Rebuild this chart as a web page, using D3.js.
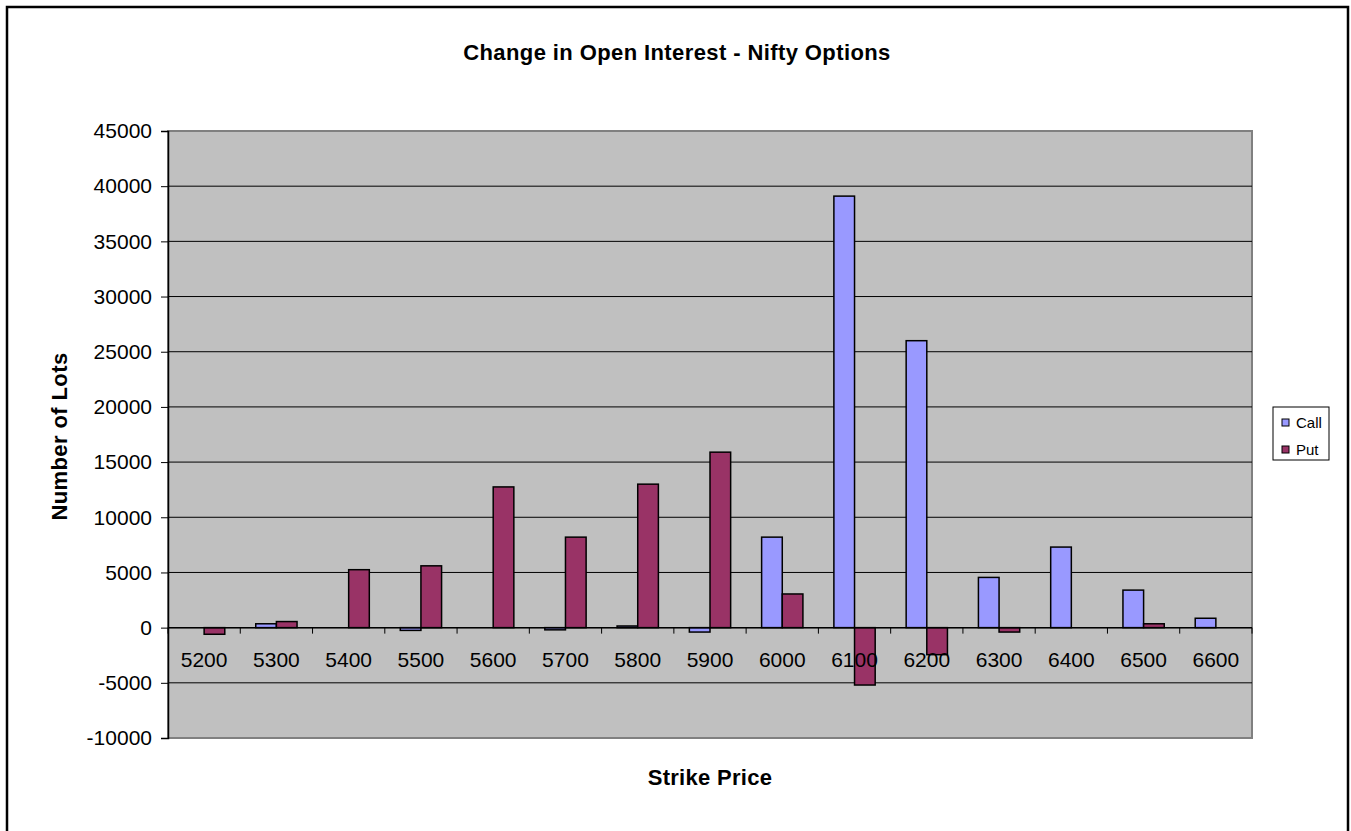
<!DOCTYPE html>
<html>
<head>
<meta charset="utf-8">
<script src="https://d3js.org/d3.v7.min.js"></script>
<style>
body { margin: 0; background: #fff; }
text { font-family: Arial, "Liberation Sans", sans-serif; }
</style>
</head>
<body>
<div id="chart"></div>
<script>
var strikes = ["5200","5300","5400","5500","5600","5700","5800","5900","6000","6100","6200","6300","6400","6500","6600"];
var callOI = [0, 350, 0, -250, 0, -200, 150, -400, 8200, 39100, 26000, 4550, 7300, 3400, 850];
var putOI  = [-600, 550, 5250, 5600, 12750, 8200, 13000, 15900, 3050, -5200, -2450, -400, 0, 350, 0];
var yTicks = [-10000,-5000,0,5000,10000,15000,20000,25000,30000,35000,40000,45000];
var seriesNames = ["Call","Put"];
var seriesColors = ["#9999FF","#993366"];

var W = 1351, H = 831;
var margin = {top: 131, right: 99, bottom: 93, left: 168},
width = W - margin.left - margin.right,
height = H - margin.top - margin.bottom;

var svg0 = d3.select("#chart")
.append("svg")
.attr("width", W)
.attr("height", H);

// outer chart border
svg0.append("rect")
.attr("x", 7).attr("y", 7)
.attr("width", 1341).attr("height", 840)
.attr("fill", "#fff")
.attr("stroke", "#000")
.attr("stroke-width", 2.5);

svg0.append("text")
.attr("x", 677).attr("y", 60)
.attr("text-anchor", "middle")
.style("font-size", "22px").style("font-weight", "bold")
.style("letter-spacing", "0.4px")
.text("Change in Open Interest - Nifty Options");

svg0.append("text")
.attr("x", margin.left + width / 2).attr("y", 785)
.attr("text-anchor", "middle")
.style("font-size", "22px").style("font-weight", "bold")
.style("letter-spacing", "0.3px")
.text("Strike Price");

svg0.append("text")
.attr("transform", "translate(67," + (margin.top + height / 2 + 2) + ") rotate(-90)")
.attr("text-anchor", "middle")
.style("font-size", "22px").style("font-weight", "bold")
.style("letter-spacing", "0.4px")
.text("Number of Lots");

var svg = svg0.append("g")
.attr("transform", "translate(" + margin.left + "," + margin.top + ")");

var x = d3.scaleBand()
.domain(strikes)
.range([0, width])
.padding(0);

var xs = d3.scaleBand()
.domain(seriesNames)
.range([0, x.bandwidth()])
.paddingInner(0)
.paddingOuter(0.75);

var y = d3.scaleLinear()
.domain([-10000, 45000])
.range([height, 0]);

svg.append("rect")
.attr("width", width).attr("height", height)
.attr("fill", "#C0C0C0")
.attr("stroke", "#808080")
.attr("stroke-width", 2);

// gridlines
svg.append("g")
.selectAll("line")
.data(yTicks.filter(function(d) { return d > -10000 && d < 45000; }))
.enter().append("line")
.attr("x1", 0).attr("x2", width)
.attr("y1", function(d) { return y(d); })
.attr("y2", function(d) { return y(d); })
.attr("stroke", "#000")
.attr("stroke-width", 1);

var yAxis = svg.append("g")
.call(d3.axisLeft(y).tickValues(yTicks).tickSize(7).tickPadding(9)
  .tickFormat(function(d) { return String(d); }));
yAxis.select(".domain").attr("stroke", "#000").attr("stroke-width", 1.5);
yAxis.selectAll("text").style("font-size", "21px").attr("fill", "#000");

var data = strikes.map(function(s, i) {
  return {strike: s, vals: [{k: "Call", v: callOI[i]}, {k: "Put", v: putOI[i]}]};
});

var groups = svg.selectAll(".grp")
.data(data)
.enter().append("g")
.attr("transform", function(d) { return "translate(" + x(d.strike) + ",0)"; });

groups.selectAll("rect")
.data(function(d) { return d.vals.filter(function(e) { return e.v !== 0; }); })
.enter().append("rect")
.attr("x", function(d) { return xs(d.k); })
.attr("width", xs.bandwidth())
.attr("y", function(d) { return y(Math.max(0, d.v)); })
.attr("height", function(d) { return Math.abs(y(d.v) - y(0)); })
.attr("fill", function(d) { return seriesColors[seriesNames.indexOf(d.k)]; })
.attr("stroke", "#000")
.attr("stroke-width", 1.5);

// category axis at zero
var xAxisG = svg.append("g")
.attr("transform", "translate(0," + y(0) + ")");
xAxisG.append("line")
.attr("x1", 0).attr("x2", width)
.attr("stroke", "#000").attr("stroke-width", 1.5);
xAxisG.selectAll(".tk")
.data(strikes.concat(["end"]))
.enter().append("line")
.attr("x1", function(d, i) { return i * x.step(); })
.attr("x2", function(d, i) { return i * x.step(); })
.attr("y1", 0).attr("y2", 6)
.attr("stroke", "#000").attr("stroke-width", 1);
xAxisG.selectAll(".lbl")
.data(strikes)
.enter().append("text")
.attr("x", function(d) { return x(d) + x.bandwidth() / 2; })
.attr("y", 39)
.attr("text-anchor", "middle")
.style("font-size", "21px")
.text(function(d) { return d; });

// legend
var lg = svg0.append("g").attr("transform", "translate(1273,407)");
lg.append("rect")
.attr("width", 56).attr("height", 53)
.attr("fill", "#fff").attr("stroke", "#000").attr("stroke-width", 1);
seriesNames.forEach(function(n, i) {
  lg.append("rect")
  .attr("x", 9).attr("y", 12 + i * 27)
  .attr("width", 7).attr("height", 7)
  .attr("fill", seriesColors[i]).attr("stroke", "#000").attr("stroke-width", 1);
  lg.append("text")
  .attr("x", 23).attr("y", 21 + i * 27)
  .style("font-size", "15px")
  .text(n);
});
</script>
</body>
</html>
